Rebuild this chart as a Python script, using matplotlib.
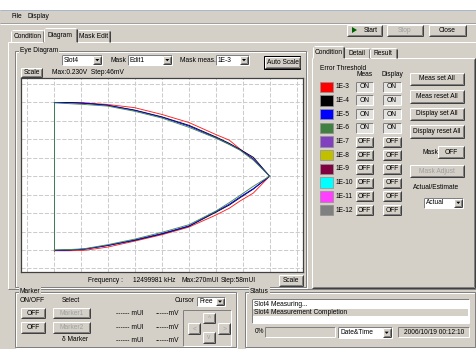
import matplotlib
matplotlib.use('Agg')
import matplotlib.pyplot as plt
from matplotlib.patches import Rectangle, Polygon

plt.rcParams['font.family'] = ['Liberation Sans', 'DejaVu Sans']

# ---------------- data ----------------
x_mui = [-232, -200, -168, -118, -59, 0, 58, 116, 145, 168, 197, 232]

top_1e3 = [184, 184, 183, 179, 171, 154, 134, 104, 90, 68, 42, 0]
top_1e4 = [184, 184, 182, 177, 165, 148, 127, 98, 82, 67, 47, 0]
top_1e5 = [184, 183, 182, 177, 164, 147, 125, 96, 80, 66, 43, 0]
top_1e6 = [183, 181, 179, 175, 162, 145, 122, 95, 79, 65, 40, 0]

bot_1e3 = [-186, -186, -185, -177, -162, -146, -127, -97, -80, -62, -42, 0]
bot_1e4 = [-185, -184, -182, -173, -160, -144, -125, -90, -72, -54, -32, 0]
bot_1e5 = [-185, -184, -182, -173, -159, -143, -124, -88, -70, -52, -31, 0]
bot_1e6 = [-184, -183, -181, -171, -157, -140, -121, -87, -66, -48, -25, 0]

x_ticks = [-290, -232, -174, -116, -58, 0, 58, 116, 174, 232, 290]
y_ticks = [-230, -184, -138, -92, -46, 0, 46, 92, 138, 184, 230]

thresholds = ['1E-3', '1E-4', '1E-5', '1E-6', '1E-7', '1E-8', '1E-9', '1E-10', '1E-11', '1E-12']
swatch_colors = ['#ff0000', '#000000', '#0000ff', '#408040', '#8040c0',
                 '#c0c000', '#800040', '#00ffff', '#ff40ff', '#808080']
meas_state = ['ON', 'ON', 'ON', 'ON', 'OFF', 'OFF', 'OFF', 'OFF', 'OFF', 'OFF']
display_state = ['ON', 'ON', 'ON', 'ON', 'OFF', 'OFF', 'OFF', 'OFF', 'OFF', 'OFF']

series = [
    ('1E-3', top_1e3, bot_1e3, '#ff2020'),
    ('1E-4', top_1e4, bot_1e4, '#000000'),
    ('1E-5', top_1e5, bot_1e5, '#0000ff'),
    ('1E-6', top_1e6, bot_1e6, '#4a8a4a'),
]

# ---------------- figure ----------------
W, H = 477, 349
BG = '#d4d0c8'
FS = 4.8
fig = plt.figure(figsize=(W / 100, H / 100), dpi=100)
fig.patch.set_facecolor(BG)
bg = fig.add_axes([0, 0, 1, 1])
bg.set_xlim(0, W)
bg.set_ylim(H, 0)
bg.axis('off')
LW = 0.72


def text(x, y, s, ha='left', color='black', size=FS):
    bg.text(x, y, s, ha=ha, va='center', fontsize=size, color=color)


def hline(x0, x1, y, c):
    bg.plot([x0, x1], [y, y], color=c, lw=LW, solid_capstyle='butt')


def vline(x, y0, y1, c):
    bg.plot([x, x], [y0, y1], color=c, lw=LW, solid_capstyle='butt')


def rect(x0, y0, x1, y1, face):
    bg.add_patch(Rectangle((x0, y0), x1 - x0, y1 - y0, facecolor=face, edgecolor='none'))


def raised(x0, y0, x1, y1, face=BG, dark=True):
    rect(x0, y0, x1, y1, face)
    hline(x0, x1, y0, 'white')
    vline(x0, y0, y1, 'white')
    if dark:
        hline(x0, x1, y1, '#404040')
        vline(x1, y0, y1, '#404040')
        hline(x0 + 1, x1 - 1, y1 - 1, '#808080')
        vline(x1 - 1, y0 + 1, y1 - 1, '#808080')
    else:
        hline(x0, x1, y1, '#808080')
        vline(x1, y0, y1, '#808080')


def sunken(x0, y0, x1, y1, face='white'):
    rect(x0, y0, x1, y1, face)
    hline(x0, x1, y0, '#808080')
    vline(x0, y0, y1, '#808080')
    hline(x0, x1, y1, 'white')
    vline(x1, y0, y1, 'white')


def button(x0, y0, x1, y1, label, color='black', focus=False):
    raised(x0, y0, x1, y1)
    if focus:
        bg.add_patch(Rectangle((x0 - 0.5, y0 - 0.5), x1 - x0 + 1, y1 - y0 + 1,
                               facecolor='none', edgecolor='black', lw=LW))
    text((x0 + x1) / 2, (y0 + y1) / 2, label, ha='center', color=color)


def onbutton(x0, y0, x1, y1, label):
    rect(x0, y0, x1, y1, '#e4e2de')
    hline(x0, x1, y0, '#808080')
    vline(x0, y0, y1, '#808080')
    hline(x0, x1, y1, 'white')
    vline(x1, y0, y1, 'white')
    text((x0 + x1) / 2, (y0 + y1) / 2, label, ha='center')


def combo(x0, y0, x1, y1, label):
    sunken(x0, y0, x1, y1)
    ax0 = x1 - 9
    raised(ax0, y0 + 1, x1 - 1, y1 - 1)
    cx, cy = (ax0 + x1 - 1) / 2, (y0 + y1) / 2
    bg.add_patch(Polygon([[cx - 2, cy - 1], [cx + 2, cy - 1], [cx, cy + 1.3]],
                         closed=True, facecolor='black', edgecolor='none'))
    text(x0 + 2, (y0 + y1) / 2, label)


def group(x0, y0, x1, y1, label):
    bg.add_patch(Rectangle((x0 + 1, y0 + 1), x1 - x0, y1 - y0, facecolor='none',
                           edgecolor='white', lw=LW))
    bg.add_patch(Rectangle((x0, y0), x1 - x0, y1 - y0, facecolor='none',
                           edgecolor='#808080', lw=LW))
    bg.text(x0 + 5, y0, label, ha='left', va='center', fontsize=FS,
            bbox=dict(facecolor=BG, edgecolor='none', pad=0.6))


def tab(x0, y0, x1, y1, label, selected=False):
    rect(x0, y0, x1, y1 + (1 if selected else 0), BG)
    hline(x0 + 1, x1 - 1, y0, 'white')
    vline(x0, y0 + 1, y1, 'white')
    vline(x1, y0 + 1, y1, '#404040')
    vline(x1 - 1, y0 + 1, y1, '#808080')
    text((x0 + x1) / 2, (y0 + y1) / 2 + 0.5, label, ha='center')


# ---------------- window chrome ----------------
rect(0, 0, W, 10, 'white')
hline(0, W, 10, '#a8b8cc')
text(12, 16.5, 'File')
text(28, 16.5, 'Display')
hline(0, W, 23, '#a0a0a0')
hline(0, W, 24, 'white')

button(346.7, 24.5, 381.7, 35.5, '')
bg.add_patch(Polygon([[352, 27], [352, 33], [357, 30]], closed=True,
                     facecolor='#006000', edgecolor='none'))
text(364, 30, 'Start')
button(386.7, 24.5, 422.7, 35.5, 'Stop', color='#a0a0a0')
button(429.3, 24.5, 465.7, 35.5, 'Close')

# main tab panel
raised(8, 42, 476, 289, dark=False)
tab(11, 30, 44, 42, 'Condition')
tab(77, 30, 110, 42, 'Mask Edit')
tab(44, 28, 77, 42, 'Diagram', selected=True)
hline(44.5, 76.5, 42, BG)

# ---------------- Eye Diagram group ----------------
group(15, 50.5, 306, 287, 'Eye Diagram')
combo(62, 55, 102.3, 65, 'Slot4')
text(111, 60, 'Mask')
combo(128, 55, 172.3, 65, 'Edit1')
text(180, 60, 'Mask meas.')
combo(215.7, 55, 249, 65, '1E-3')
button(265, 56.7, 300, 68.3, 'Auto Scale', focus=True)
button(21, 67.5, 42.5, 77, 'Scale')
text(52, 72, 'Max:0.230V  Step:46mV')

text(88, 280, 'Frequency :')
text(132.7, 280, '12499981 kHz')
text(181.7, 280, 'Max:270mUI')
text(220.7, 280, 'Step:58mUI')
button(279, 275, 302.7, 285.5, 'Scale')

# ---------------- eye diagram plot ----------------
px0, py0, px1, py1 = 21, 78, 303, 272
ax = fig.add_axes([px0 / W, 1 - py1 / H, (px1 - px0) / W, (py1 - py0) / H])
ax.set_facecolor('white')
ax.set_xlim(-304, 304)
ax.set_ylim(-239, 245)
ax.set_xticks(x_ticks)
ax.set_yticks(y_ticks)
ax.tick_params(length=0, labelbottom=False, labelleft=False)
ax.grid(True, color='#cccccc', lw=0.75, linestyle=(0, (4.0, 1.6)))
ax.set_axisbelow(True)
for s in ax.spines.values():
    s.set_color('#404040')
    s.set_linewidth(0.9)

for name, top, bot, col in series:
    ax.plot(x_mui, top, color=col, lw=0.65, solid_joinstyle='round')
    ax.plot(x_mui, bot, color=col, lw=0.65, solid_joinstyle='round')
    ax.plot([x_mui[0], x_mui[0]], [bot[0], top[0]], color=col, lw=0.65)

# ---------------- right Condition panel ----------------
raised(312, 58, 475, 288, dark=True)
tab(344.3, 48, 370, 58, 'Detail')
tab(370, 48, 396.7, 58, 'Result')
tab(312.7, 46, 344.3, 58, 'Condition', selected=True)
hline(313.2, 343.8, 58, BG)

text(320, 69, 'Error Threshold')
text(364.7, 75, 'Meas', ha='center')
text(392, 75, 'Display', ha='center')

row_y = [86.7, 100.4, 114.1, 127.8, 141.5, 155.2, 168.9, 182.6, 196.3, 210.0]
for i, lab in enumerate(thresholds):
    yc = row_y[i]
    bg.add_patch(Rectangle((320, yc - 5.2), 13.3, 10.4, facecolor=swatch_colors[i],
                           edgecolor='#909090', lw=0.5))
    text(336, yc, lab)
    for xa, xb, st in [(356, 373.3, meas_state[i]), (383.3, 400.7, display_state[i])]:
        if st == 'ON':
            onbutton(xa, yc - 5, xb, yc + 5, st)
        else:
            button(xa, yc - 5, xb, yc + 5, st)

button(410, 72.7, 464, 85, 'Meas set All')
button(410, 90, 464, 102.7, 'Meas reset All')
button(410, 107.7, 464, 120, 'Display set All')
button(410, 125, 464, 138.3, 'Display reset All')
text(423, 152, 'Mask')
button(438.3, 146, 464.3, 158.3, 'OFF')
button(410, 165, 464, 177.3, 'Mask Adjust', color='#a0a0a0')
text(413.3, 187.3, 'Actual/Estimate')
combo(424, 197.7, 463.3, 207.7, 'Actual')

# ---------------- Marker group ----------------
group(15, 291.7, 236, 347, 'Marker')
text(20, 300.7, 'ON/OFF')
text(62, 300.7, 'Select')
button(21, 308.3, 45, 318.3, 'OFF')
button(21, 321.7, 45, 333.3, 'OFF')
button(53.3, 308.3, 90, 318.3, 'Marker1', color='#a0a0a0')
button(53.3, 321.7, 90, 333.3, 'Marker2', color='#a0a0a0')
text(62, 339.3, 'δ Marker')
for yy in [313.3, 327.3, 340.3]:
    text(116, yy, '------ mUI')
    text(156, yy, '------mV')
text(175, 300.7, 'Cursor')
combo(197.3, 296.7, 225, 306.3, 'Free')
sunken(183, 310, 231, 345.5, face=BG)
button(203.3, 312.7, 215, 323.3, '^', color='#a0a0a0')
button(188.3, 323.3, 200, 334, '<', color='#a0a0a0')
button(218.3, 323.3, 230, 334, '>', color='#a0a0a0')
button(203.3, 332, 215, 342.5, 'v', color='#a0a0a0')

# ---------------- Status group ----------------
group(245, 291.7, 475, 347, 'Status')
sunken(251.7, 299.3, 469.3, 323.3)
text(254, 304.3, 'Slot4 Measuring...')
rect(252.5, 309, 468.5, 316.3, BG)
text(254, 312.7, 'Slot4 Measurement Completion')
text(255, 331.7, '0%')
sunken(265, 327.3, 335, 336.7, face=BG)
combo(338.3, 327.3, 391.7, 338, 'Date&Time')
sunken(398.3, 327.3, 469.3, 337, face=BG)
text(433.8, 332.2, '2006/10/19 00:12:10', ha='center')

fig.savefig('out.png', dpi=100, facecolor=BG)
